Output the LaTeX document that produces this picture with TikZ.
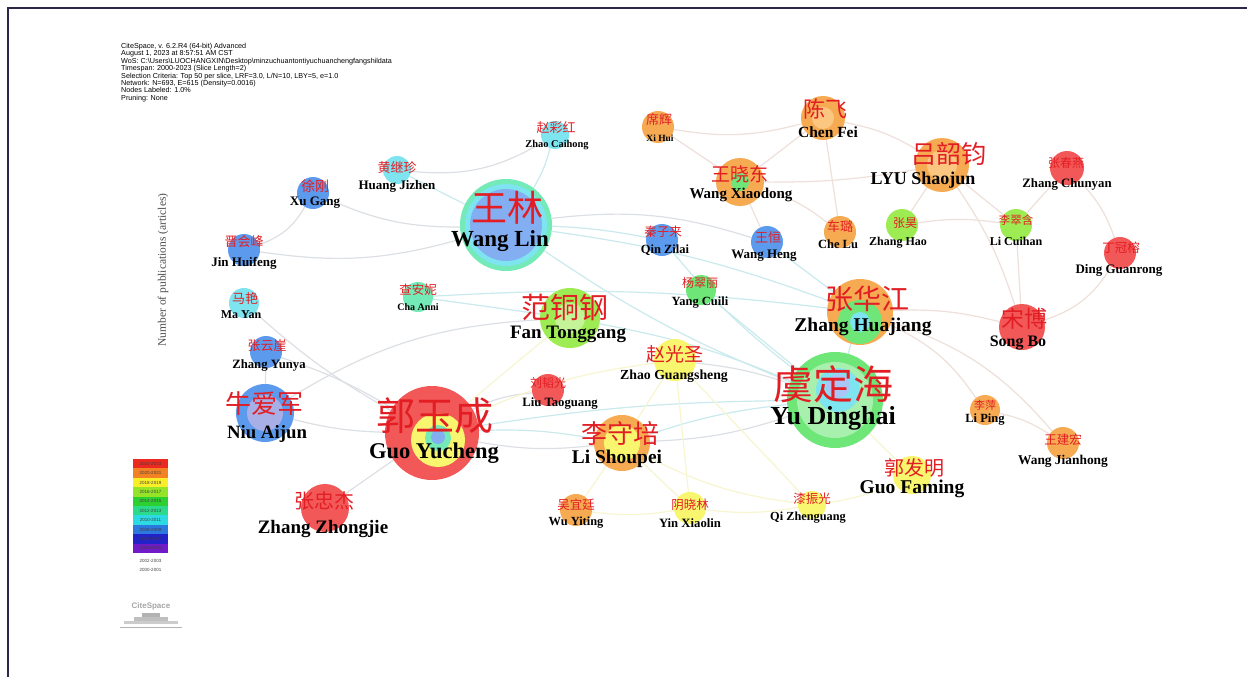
\documentclass[tikz,border=0pt]{standalone}
\usepackage{fontspec}
\setmainfont{Liberation Serif}
\newfontfamily\cjk{Noto Sans CJK SC}
\newfontfamily\hdr{Liberation Sans}
\usepackage{tikz}
\usetikzlibrary{backgrounds}
\definecolor{csred}{RGB}{243,88,88}
\definecolor{csorange}{RGB}{246,170,82}
\definecolor{cspale}{RGB}{250,198,128}
\definecolor{csyellow}{RGB}{248,246,110}
\definecolor{csygreen}{RGB}{158,236,84}
\definecolor{csgreen}{RGB}{110,230,120}
\definecolor{csteal}{RGB}{115,234,184}
\definecolor{cscyan}{RGB}{125,228,240}
\definecolor{csblue}{RGB}{92,154,238}
\definecolor{cslblue}{RGB}{132,174,242}
\definecolor{zhred}{RGB}{226,30,36}
\definecolor{framec}{RGB}{42,40,72}
\definecolor{egray}{RGB}{220,224,228}
\definecolor{ecyan}{RGB}{202,234,237}
\definecolor{eyellow}{RGB}{247,246,208}
\definecolor{epeach}{RGB}{238,224,218}
\definecolor{lg1}{RGB}{236,40,32}
\definecolor{lg2}{RGB}{242,130,36}
\definecolor{lg3}{RGB}{250,238,40}
\definecolor{lg4}{RGB}{150,228,40}
\definecolor{lg5}{RGB}{44,208,48}
\definecolor{lg6}{RGB}{44,218,140}
\definecolor{lg7}{RGB}{44,218,228}
\definecolor{lg8}{RGB}{44,120,222}
\definecolor{lg9}{RGB}{34,34,200}
\definecolor{lg10}{RGB}{112,26,200}
\tikzstyle{vertex}=[circle,inner sep=0pt,draw=none]
\tikzstyle{edge}=[draw,line width=1.2pt,egray]
\tikzstyle{edgec}=[draw,line width=1.2pt,ecyan]
\tikzstyle{edgey}=[draw,line width=1.2pt,eyellow]
\tikzstyle{edgep}=[draw,line width=1.2pt,epeach]
\tikzstyle{legtext}=[inner sep=0pt,font=\hdr\fontsize{4.5}{5}\selectfont,text=black!75]
\tikzset{
  zh/.style={text=zhred,inner sep=0pt,font=\cjk\fontsize{#1}{#1}\selectfont},
  py/.style={text=black,inner sep=0pt,font=\bfseries\fontsize{#1}{#1}\selectfont},
  r/.style={minimum size=2*#1 pt}
}

\begin{document}
\begin{tikzpicture}[x=1pt,y=-1pt]
  \useasboundingbox (0,0) rectangle (1247,677);
  \draw[framec,line width=2pt] (8,677) -- (8,8) -- (1247,8);

  % authors
  \node[vertex,r=46,fill=csteal] (wanglin) at (506,225) {};
  \node[vertex,r=48,fill=csgreen] (yudinghai) at (835,400) {};
  \node[vertex,r=47,fill=csred] (guoyucheng) at (432,433) {};
  \node[vertex,r=30,fill=csygreen] (fantonggang) at (570,318) {};
  \node[vertex,r=33,fill=csorange] (zhanghuajiang) at (860,312) {};
  \node[vertex,r=27,fill=csorange] (lyushaojun) at (942,165) {};
  \node[vertex,r=28,fill=csorange] (lishoupei) at (622,443) {};
  \node[vertex,r=29,fill=csblue] (niuaijun) at (265,413) {};
  \node[vertex,r=24,fill=csred] (zhangzhongjie) at (325,508) {};
  \node[vertex,r=23,fill=csred] (songbo) at (1022,327) {};
  \node[vertex,r=22,fill=csorange] (chenfei) at (823,118) {};
  \node[vertex,r=24,fill=csorange] (wangxiaodong) at (740,182) {};
  \node[vertex,r=21,fill=csyellow] (zhaoguangsheng) at (675,360) {};
  \node[vertex,r=19,fill=csyellow] (guofaming) at (912,475) {};
  \node[vertex,r=16,fill=csblue] (xugang) at (313,193) {};
  \node[vertex,r=14,fill=cscyan] (huangjizhen) at (397,170) {};
  \node[vertex,r=14,fill=cscyan] (zhaocaihong) at (555,135) {};
  \node[vertex,r=16,fill=csblue] (jinhuifeng) at (244,250) {};
  \node[vertex,r=15,fill=cscyan] (mayan) at (244,303) {};
  \node[vertex,r=16,fill=csblue] (zhangyunya) at (266,352) {};
  \node[vertex,r=15,fill=csteal] (chaanni) at (418,297) {};
  \node[vertex,r=16,fill=csblue] (qinzilai) at (662,240) {};
  \node[vertex,r=16,fill=csblue] (wangheng) at (767,242) {};
  \node[vertex,r=15,fill=csgreen] (yangcuili) at (701,290) {};
  \node[vertex,r=16,fill=csorange] (xihui) at (658,127) {};
  \node[vertex,r=16,fill=csorange] (chelu) at (840,232) {};
  \node[vertex,r=16,fill=csygreen] (zhanghao) at (902,225) {};
  \node[vertex,r=16,fill=csygreen] (licuihan) at (1016,225) {};
  \node[vertex,r=17,fill=csred] (zhangchunyan) at (1067,168) {};
  \node[vertex,r=16,fill=csred] (dingguanrong) at (1120,253) {};
  \node[vertex,r=16,fill=csred] (liutaoguang) at (548,390) {};
  \node[vertex,r=15,fill=csorange] (liping) at (985,410) {};
  \node[vertex,r=16,fill=csorange] (wangjianhong) at (1063,443) {};
  \node[vertex,r=16,fill=csorange] (wuyiting) at (576,510) {};
  \node[vertex,r=16,fill=csyellow] (yinxiaolin) at (690,508) {};
  \node[vertex,r=14,fill=csyellow] (qizhenguang) at (812,505) {};

  % inner rings
  \fill[cscyan] (wanglin) circle (41);
  \fill[cslblue] (wanglin) circle (36);
  \fill[csgreen!60!white] (yudinghai) circle (38);
  \fill[cscyan] (838,390) circle (22);
  \fill[cslblue!70!white] (838,386) circle (12);
  \fill[csyellow] (438,440) circle (27);
  \fill[csteal] (438,438) circle (13);
  \fill[cslblue] (438,437) circle (7);
  \fill[csgreen] (860,322) circle (22);
  \fill[cscyan] (860,322) circle (10);
  \fill[csygreen!60!white] (fantonggang) circle (15);
  \fill[csyellow] (lishoupei) circle (18);
  \fill[cspale] (lyushaojun) circle (15);
  \fill[cslblue!80!violet!70!white] (niuaijun) circle (18);
  \fill[csgreen] (wangxiaodong) circle (9);
  \fill[cspale] (chenfei) circle (11);

  % labels
  \node[zh=36] (wanglin-zh) at (507,208) {王林};
  \node[py=23] (wanglin-py) at (500,241) {Wang Lin};
  \node[zh=40] (yudinghai-zh) at (833,384) {虞定海};
  \node[py=26] (yudinghai-py) at (833,418) {Yu Dinghai};
  \node[zh=39] (guoyucheng-zh) at (435,416) {郭玉成};
  \node[py=22.5] (guoyucheng-py) at (434,453) {Guo Yucheng};
  \node[zh=29] (fantonggang-zh) at (565,307) {范铜钢};
  \node[py=19] (fantonggang-py) at (568,334) {Fan Tonggang};
  \node[zh=28] (zhanghuajiang-zh) at (867,299) {张华江};
  \node[py=19.5] (zhanghuajiang-py) at (863,327) {Zhang Huajiang};
  \node[zh=25] (lyushaojun-zh) at (949,154) {吕韶钧};
  \node[py=18] (lyushaojun-py) at (923,180) {LYU Shaojun};
  \node[zh=26] (lishoupei-zh) at (620,434) {李守培};
  \node[py=19.4] (lishoupei-py) at (617,459) {Li Shoupei};
  \node[zh=26] (niuaijun-zh) at (264,404) {牛爱军};
  \node[py=18.8] (niuaijun-py) at (267,434) {Niu Aijun};
  \node[zh=20] (zhangzhongjie-zh) at (324,501) {张忠杰};
  \node[py=19] (zhangzhongjie-py) at (323,529) {Zhang Zhongjie};
  \node[zh=23] (songbo-zh) at (1024,319) {宋博};
  \node[py=16] (songbo-py) at (1018,343) {Song Bo};
  \node[zh=22] (chenfei-zh) at (825,109) {陈飞};
  \node[py=15.5] (chenfei-py) at (828,132) {Chen Fei};
  \node[zh=19] (wangxiaodong-zh) at (740,174) {王晓东};
  \node[py=15] (wangxiaodong-py) at (741,195) {Wang Xiaodong};
  \node[zh=19] (zhaoguangsheng-zh) at (675,354) {赵光圣};
  \node[py=13.8] (zhaoguangsheng-py) at (674,376) {Zhao Guangsheng};
  \node[zh=20] (guofaming-zh) at (914,468) {郭发明};
  \node[py=19.5] (guofaming-py) at (912,489) {Guo Faming};
  \node[zh=14] (xugang-zh) at (315,186) {徐刚};
  \node[py=13] (xugang-py) at (315,203) {Xu Gang};
  \node[zh=13] (huangjizhen-zh) at (397,168) {黄继珍};
  \node[py=13] (huangjizhen-py) at (397,186) {Huang Jizhen};
  \node[zh=13] (zhaocaihong-zh) at (556,128) {赵彩红};
  \node[py=10.4] (zhaocaihong-py) at (557,145) {Zhao Caihong};
  \node[zh=13] (jinhuifeng-zh) at (244,242) {晋会峰};
  \node[py=13] (jinhuifeng-py) at (244,263) {Jin Huifeng};
  \node[zh=13] (mayan-zh) at (245,298) {马艳};
  \node[py=12] (mayan-py) at (241,315) {Ma Yan};
  \node[zh=13] (zhangyunya-zh) at (267,346) {张云崖};
  \node[py=12.7] (zhangyunya-py) at (269,365) {Zhang Yunya};
  \node[zh=12.5] (chaanni-zh) at (418,290) {查安妮};
  \node[py=10] (chaanni-py) at (418,307) {Cha Anni};
  \node[zh=12.5] (qinzilai-zh) at (663,232) {秦子来};
  \node[py=12.5] (qinzilai-py) at (665,250) {Qin Zilai};
  \node[zh=13] (wangheng-zh) at (768,238) {王恒};
  \node[py=13] (wangheng-py) at (764,256) {Wang Heng};
  \node[zh=12] (yangcuili-zh) at (700,283) {杨翠丽};
  \node[py=12.5] (yangcuili-py) at (700,303) {Yang Cuili};
  \node[zh=13] (xihui-zh) at (659,120) {席辉};
  \node[py=9.5] (xihui-py) at (660,138) {Xi Hui};
  \node[zh=13] (chelu-zh) at (840,227) {车璐};
  \node[py=12.5] (chelu-py) at (838,244) {Che Lu};
  \node[zh=12] (zhanghao-zh) at (905,223) {张昊};
  \node[py=12] (zhanghao-py) at (898,243) {Zhang Hao};
  \node[zh=11.5] (licuihan-zh) at (1016,220) {李翠含};
  \node[py=12] (licuihan-py) at (1016,241) {Li Cuihan};
  \node[zh=12] (zhangchunyan-zh) at (1066,163) {张春燕};
  \node[py=12.8] (zhangchunyan-py) at (1067,184) {Zhang Chunyan};
  \node[zh=12.5] (dingguanrong-zh) at (1121,248) {丁冠榕};
  \node[py=13] (dingguanrong-py) at (1119,270) {Ding Guanrong};
  \node[zh=12] (liutaoguang-zh) at (548,383) {刘韬光};
  \node[py=12.7] (liutaoguang-py) at (560,403) {Liu Taoguang};
  \node[zh=11] (liping-zh) at (985,405) {李萍};
  \node[py=12.5] (liping-py) at (985,420) {Li Ping};
  \node[zh=12.5] (wangjianhong-zh) at (1063,440) {王建宏};
  \node[py=13.4] (wangjianhong-py) at (1063,461) {Wang Jianhong};
  \node[zh=12.5] (wuyiting-zh) at (576,505) {吴宜廷};
  \node[py=12.4] (wuyiting-py) at (576,523) {Wu Yiting};
  \node[zh=12.5] (yinxiaolin-zh) at (690,505) {阴晓林};
  \node[py=12.7] (yinxiaolin-py) at (690,523) {Yin Xiaolin};
  \node[zh=12.5] (qizhenguang-zh) at (812,499) {漆振光};
  \node[py=12.3] (qizhenguang-py) at (808,518) {Qi Zhenguang};

  \begin{pgfonlayer}{background}
    \fill[white] (0,0) rectangle (1247,677);
    \draw[edge] (jinhuifeng) to[bend right=20] (xugang);
    \draw[edge] (jinhuifeng) to[bend right=12] (wanglin);
    \draw[edge] (xugang) to[bend right=12] (wanglin);
    \draw[edge] (huangjizhen) to[bend right=18] (zhaocaihong);
    \draw[edgec] (huangjizhen) to (wanglin);
    \draw[edgec] (zhaocaihong) to[bend left=8] (wanglin);
    \draw[edge] (wanglin) to[bend left=12] (wangheng);
    \draw[edgec] (wanglin) to[bend left=6] (zhanghuajiang);
    \draw[edgec] (wanglin) to[bend right=6] (yudinghai);
    \draw[edgec] (wanglin) to[bend left=4] (qinzilai);
    \draw[edgec] (chaanni) to[bend left=5] (zhanghuajiang);
    \draw[edgec] (chaanni) to (fantonggang);
    \draw[edgec] (fantonggang) to[bend left=6] (yudinghai);
    \draw[edge] (niuaijun) to[bend left=14] (fantonggang);
    \draw[edgey] (guoyucheng) to (fantonggang);
    \draw[edge] (mayan) to[bend right=6] (guoyucheng);
    \draw[edge] (zhangyunya) to (niuaijun);
    \draw[edge] (zhangyunya) to[bend left=6] (guoyucheng);
    \draw[edge] (niuaijun) to[bend right=6] (guoyucheng);
    \draw[edge] (guoyucheng) to (zhangzhongjie);
    \draw[edge] (guoyucheng) to[bend left=10] (liutaoguang);
    \draw[edgec] (guoyucheng) to[bend left=6] (lishoupei);
    \draw[edge] (guoyucheng) to[bend right=8] (lishoupei);
    \draw[edgec] (guoyucheng) to[bend left=4] (yudinghai);
    \draw[edgey] (guoyucheng) to[bend left=8] (zhaoguangsheng);
    \draw[edgec] (lishoupei) to[bend left=6] (yudinghai);
    \draw[edge] (lishoupei) to[bend right=8] (yudinghai);
    \draw[edgey] (lishoupei) to (wuyiting);
    \draw[edgey] (lishoupei) to (yinxiaolin);
    \draw[edgey] (lishoupei) to (zhaoguangsheng);
    \draw[edgey] (lishoupei) to[bend right=10] (qizhenguang);
    \draw[edge] (zhaoguangsheng) to[bend left=6] (yudinghai);
    \draw[edgey] (zhaoguangsheng) to (yinxiaolin);
    \draw[edgey] (zhaoguangsheng) to (qizhenguang);
    \draw[edgey] (yinxiaolin) to[bend right=8] (qizhenguang);
    \draw[edgey] (wuyiting) to[bend right=8] (yinxiaolin);
    \draw[edgey] (qizhenguang) to[bend right=8] (guofaming);
    \draw[edgey] (guofaming) to (yudinghai);
    \draw[edgec] (yudinghai) to (zhanghuajiang);
    \draw[edgec] (yudinghai) to (yangcuili);
    \draw[edgec] (yudinghai) to[bend left=6] (qinzilai);
    \draw[edgec] (zhanghuajiang) to (wangheng);
    \draw[edgep] (zhanghuajiang) to[bend left=8] (songbo);
    \draw[edgep] (zhanghuajiang) to[bend left=15] (liping);
    \draw[edgep] (zhanghuajiang) to[bend left=15] (wangjianhong);
    \draw[edgep] (liping) to[bend left=10] (wangjianhong);
    \draw[edgep] (songbo) to (licuihan);
    \draw[edgep] (songbo) to[bend right=20] (dingguanrong);
    \draw[edgep] (dingguanrong) to[bend right=12] (zhangchunyan);
    \draw[edgep] (zhangchunyan) to (licuihan);
    \draw[edgep] (licuihan) to (lyushaojun);
    \draw[edgep] (licuihan) to[bend right=8] (zhanghao);
    \draw[edgep] (lyushaojun) to (zhanghao);
    \draw[edgep] (lyushaojun) to[bend right=10] (chenfei);
    \draw[edgep] (lyushaojun) to[bend left=5] (wangxiaodong);
    \draw[edgep] (lyushaojun) to[bend left=8] (songbo);
    \draw[edgep] (chenfei) to (wangxiaodong);
    \draw[edgep] (chenfei) to (chelu);
    \draw[edgep] (chenfei) to[bend left=12] (xihui);
    \draw[edgep] (xihui) to (wangxiaodong);
    \draw[edgep] (wangxiaodong) to[bend left=10] (chelu);
    \draw[edgep] (wangxiaodong) to (wangheng);
  \end{pgfonlayer}

  % header, axis title, legend, logo
  \node[anchor=north west,align=left,inner sep=0pt,font=\hdr\fontsize{7.2}{7.4}\selectfont] (info) at (121,43)
    {CiteSpace, v. 6.2.R4 (64-bit) Advanced\\
     August 1, 2023 at 8:57:51 AM CST\\
     WoS: C:\textbackslash Users\textbackslash LUOCHANGXIN\textbackslash Desktop\textbackslash minzuchuantontiyuchuanchengfangshildata\\
     Timespan: 2000-2023 (Slice Length=2)\\
     Selection Criteria: Top 50 per slice, LRF=3.0, L/N=10, LBY=5, e=1.0\\
     Network: N=693, E=615 (Density=0.0016)\\
     Nodes Labeled: 1.0\%\\
     Pruning: None};
  \node[rotate=90,inner sep=0pt,text=black!70,font=\fontsize{11.5}{12}\selectfont] (ylabel) at (163,270) {Number of publications (articles)};
  \foreach \c/\t [count=\i from 0] in {lg1/2022-2023,lg2/2020-2021,lg3/2018-2019,lg4/2016-2017,lg5/2014-2015,lg6/2012-2013,lg7/2010-2011,lg8/2008-2009,lg9/2006-2007,lg10/2004-2005}{
    \fill[\c] (133,{459+9.4*\i}) rectangle (168,{468.4+9.4*\i});
    \node[legtext] (leg\i) at (150.5,{463.7+9.4*\i}) {\t};
  }
  \node[legtext] (leg10) at (150.5,561) {2002-2003};
  \node[legtext] (leg11) at (150.5,570) {2000-2001};
  \node[inner sep=0pt,text=black!35,font=\hdr\bfseries\fontsize{8}{8}\selectfont] (logo) at (151,606) {CiteSpace};
  \fill[black!30] (142,613) rectangle (160,617);
  \fill[black!25] (134,617) rectangle (168,621);
  \fill[black!20] (124,621) rectangle (178,624);
  \draw[black!30,line width=0.8pt] (120,627) -- (182,627);
\end{tikzpicture}
\end{document}
